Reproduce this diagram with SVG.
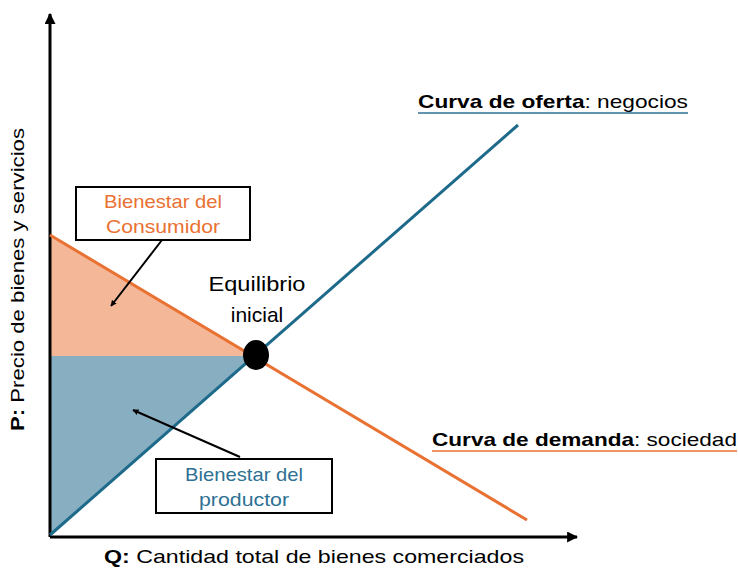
<svg xmlns="http://www.w3.org/2000/svg" width="738" height="571" viewBox="0 0 738 571">
<defs>
<marker id="ah" viewBox="0 0 10 10" refX="9" refY="5" markerWidth="6" markerHeight="6" orient="auto" markerUnits="userSpaceOnUse"><path d="M0,0 L10,5 L0,10 z" fill="#000"/></marker>
<marker id="axh" viewBox="0 0 10 10" refX="9" refY="5" markerWidth="11" markerHeight="11" orient="auto" markerUnits="userSpaceOnUse"><path d="M0,0 L10,5 L0,10 z" fill="#000"/></marker>
<style>
text{font-family:"Liberation Sans",Arial,sans-serif}
.box{fill:#fff;stroke:#000;stroke-width:2}
.lbl{font-size:19px;text-anchor:middle}
.ax{stroke:#000;stroke-width:3;fill:none}
</style>
</defs>
<g id="areas">
<polygon points="50,235 50,356 254,356" fill="#F4B898"/>
<polygon points="50,356 50,535 254,356" fill="#88AEC1"/>
</g>
<g id="connectors">
<line x1="50" y1="537" x2="50" y2="14" class="ax" marker-end="url(#axh)"/>
<line x1="50" y1="537" x2="577" y2="537" class="ax" marker-end="url(#axh)"/>
<line x1="50" y1="235" x2="527" y2="520" stroke="#E97132" stroke-width="3"/>
<line x1="50" y1="535" x2="518" y2="125" stroke="#1D6A8A" stroke-width="3"/>
<line x1="162" y1="240" x2="111" y2="306" stroke="#000" stroke-width="2" marker-end="url(#ah)"/>
<line x1="240" y1="457" x2="133" y2="410" stroke="#000" stroke-width="2" marker-end="url(#ah)"/>
</g>
<g id="equilibrio">
<ellipse cx="256" cy="355" rx="13" ry="15" fill="#000"/>
<text x="257" y="291" font-size="21" text-anchor="middle" textLength="97" lengthAdjust="spacingAndGlyphs">Equilibrio</text>
<text x="257" y="322" font-size="21" text-anchor="middle">inicial</text>
</g>
<g id="bienestar-consumidor">
<rect x="76" y="187" width="174" height="53" class="box"/>
<text x="163" y="208" class="lbl" fill="#E97132" textLength="118" lengthAdjust="spacingAndGlyphs">Bienestar del</text>
<text x="163" y="233" class="lbl" fill="#E97132" textLength="114" lengthAdjust="spacingAndGlyphs">Consumidor</text>
</g>
<g id="bienestar-productor">
<rect x="156" y="459" width="176" height="54" class="box"/>
<text x="244" y="481" class="lbl" fill="#2E7193" textLength="118" lengthAdjust="spacingAndGlyphs">Bienestar del</text>
<text x="244" y="506" class="lbl" fill="#2E7193" textLength="90" lengthAdjust="spacingAndGlyphs">productor</text>
</g>
<g id="curva-oferta">
<text x="418" y="108" font-size="19" textLength="270" lengthAdjust="spacingAndGlyphs"><tspan font-weight="bold">Curva de oferta</tspan>: negocios</text>
<line x1="418" y1="113" x2="688" y2="113" stroke="#2E7193" stroke-width="1.5"/>
</g>
<g id="curva-demanda">
<text x="432" y="446" font-size="19" textLength="305" lengthAdjust="spacingAndGlyphs"><tspan font-weight="bold">Curva de demanda</tspan>: sociedad</text>
<line x1="432" y1="451" x2="737" y2="451" stroke="#E97132" stroke-width="1.5"/>
</g>
<g id="eje-q">
<text x="104" y="563" font-size="19" textLength="420" lengthAdjust="spacingAndGlyphs"><tspan font-weight="bold">Q:</tspan> Cantidad total de bienes comerciados</text>
</g>
<g id="eje-p">
<text transform="translate(24,431) rotate(-90)" x="0" y="0" font-size="19" textLength="303" lengthAdjust="spacingAndGlyphs"><tspan font-weight="bold">P:</tspan> Precio de bienes y servicios</text>
</g>
</svg>
